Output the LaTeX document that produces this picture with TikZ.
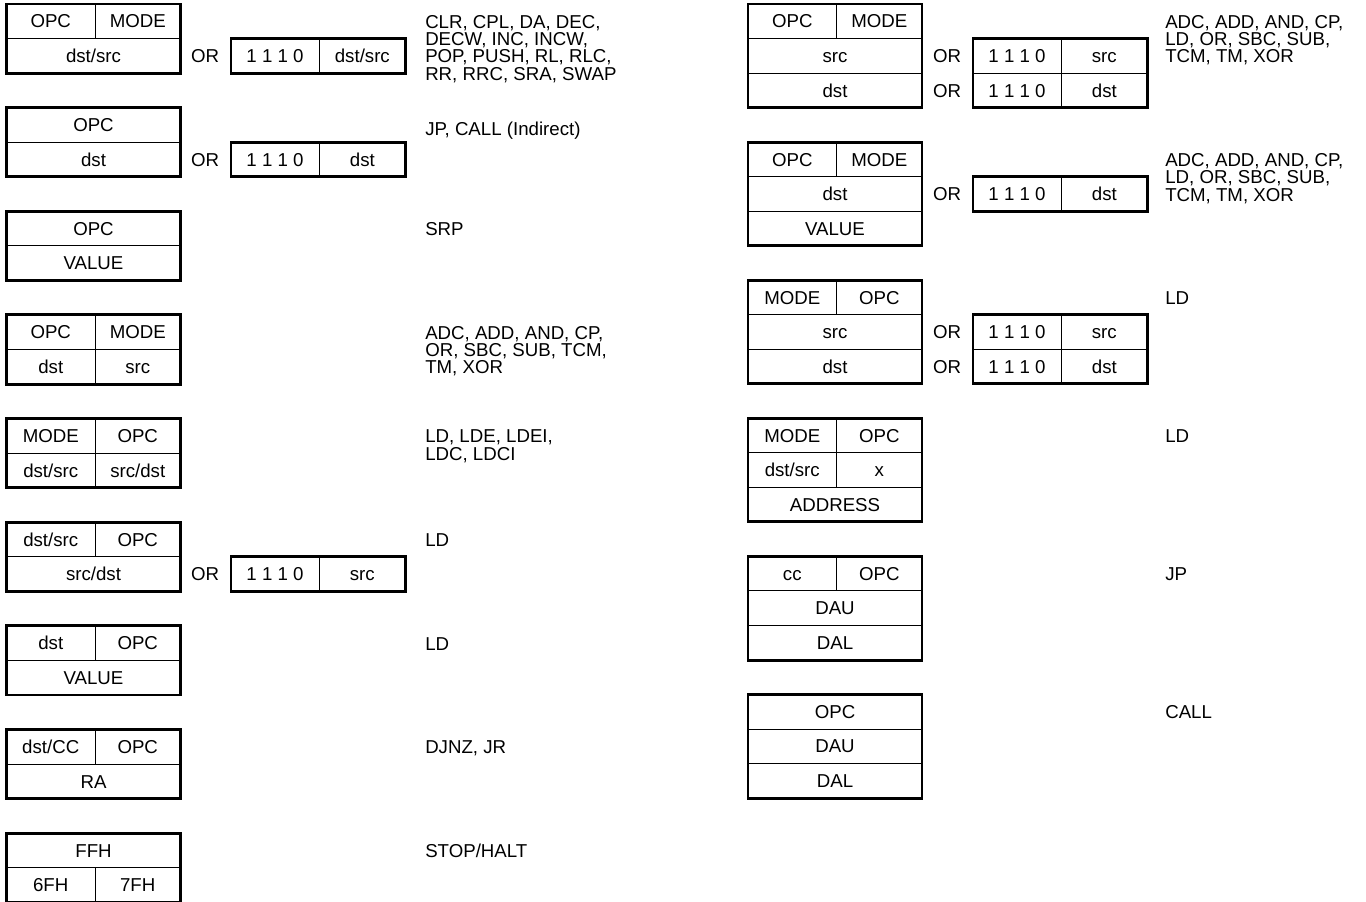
\documentclass[tikz,border=0pt]{standalone}
\usepackage{fontspec}
\setmainfont{Liberation Sans}
\usetikzlibrary{calc}
\newcommand{\fs}{\fontsize{14}{13}\selectfont}
\newcommand{\tp}{\rule{0pt}{10.5pt}}
\tikzset{
  cell/.style={draw, line width=0.75pt, minimum height=25.91pt, inner sep=0pt, outer sep=0pt,
    anchor=north west, font=\fs, text height=10pt, text depth=0pt},
  full/.style={cell, minimum width=130.5pt},
  lhalf/.style={cell, minimum width=66.375pt},
  rhalf/.style={cell, minimum width=64.125pt},
  orl/.style={cell, minimum width=66pt},
  orr/.style={cell, minimum width=65pt},
  frame/.style={line width=2.2pt},
  ortxt/.style={font=\fs, inner sep=0pt, text height=10pt, text depth=0pt},
  desc/.style={anchor=north west, align=left, font=\fs, inner sep=0pt}
}
\begin{document}
\begin{tikzpicture}[x=0.75pt,y=-0.75pt]
\useasboundingbox (0,0) rectangle (1366,902);

% ---------------- Left column ----------------
% 1
\node[lhalf] (l1a) at (6.5,4) {OPC};
\node[rhalf] (l1b) at (l1a.north east) {MODE};
\node[full]  (l1c) at (l1a.south west) {dst/src};
\draw[frame] (l1a.north west) rectangle (l1c.south east);
\node[ortxt] (l1or) at ($(l1c.east)+(24.5,0)$) {OR};
\node[orl] (l1d) at ($(l1c.north east)+(50.5,0)$) {1 1 1 0};
\node[orr] (l1e) at (l1d.north east) {dst/src};
\draw[frame] (l1d.north west) rectangle (l1e.south east);
\node[desc] (l1t) at ($(l1a.west)+(418.5,-7.3)$) {\tp CLR, CPL, DA, DEC,\\DECW, INC, INCW,\\POP, PUSH, RL, RLC,\\RR, RRC, SRA, SWAP};

% 2
\node[full] (l2a) at (6.5,107.65) {OPC};
\node[full] (l2c) at (l2a.south west) {dst};
\draw[frame] (l2a.north west) rectangle (l2c.south east);
\node[ortxt] (l2or) at ($(l2c.east)+(24.5,0)$) {OR};
\node[orl] (l2d) at ($(l2c.north east)+(50.5,0)$) {1 1 1 0};
\node[orr] (l2e) at (l2d.north east) {dst};
\draw[frame] (l2d.north west) rectangle (l2e.south east);
\node[desc] (l2t) at ($(l2a.west)+(418.5,-3.5)$) {\tp JP, CALL (Indirect)};

% 3
\node[full] (l3a) at (6.5,211.3) {OPC};
\node[full] (l3c) at (l3a.south west) {VALUE};
\draw[frame] (l3a.north west) rectangle (l3c.south east);
\node[desc] (l3t) at ($(l3a.west)+(418.5,-7.3)$) {\tp SRP};

% 4
\node[lhalf] (l4a) at (6.5,314.95) {OPC};
\node[rhalf] (l4b) at (l4a.north east) {MODE};
\node[lhalf] (l4c) at (l4a.south west) {dst};
\node[rhalf] (l4d) at (l4c.north east) {src};
\draw[frame] (l4a.north west) rectangle (l4d.south east);
\node[desc] (l4t) at ($(l4a.west)+(418.5,-7.3)$) {\tp ADC, ADD, AND, CP,\\OR, SBC, SUB, TCM,\\TM, XOR};

% 5
\node[lhalf] (l5a) at (6.5,418.6) {MODE};
\node[rhalf] (l5b) at (l5a.north east) {OPC};
\node[lhalf] (l5c) at (l5a.south west) {dst/src};
\node[rhalf] (l5d) at (l5c.north east) {src/dst};
\draw[frame] (l5a.north west) rectangle (l5d.south east);
\node[desc] (l5t) at ($(l5a.west)+(418.5,-7.3)$) {\tp LD, LDE, LDEI,\\LDC, LDCI};

% 6
\node[lhalf] (l6a) at (6.5,522.25) {dst/src};
\node[rhalf] (l6b) at (l6a.north east) {OPC};
\node[full]  (l6c) at (l6a.south west) {src/dst};
\draw[frame] (l6a.north west) rectangle (l6c.south east);
\node[ortxt] (l6or) at ($(l6c.east)+(24.5,0)$) {OR};
\node[orl] (l6d) at ($(l6c.north east)+(50.5,0)$) {1 1 1 0};
\node[orr] (l6e) at (l6d.north east) {src};
\draw[frame] (l6d.north west) rectangle (l6e.south east);
\node[desc] (l6t) at ($(l6a.west)+(418.5,-7.3)$) {\tp LD};

% 7
\node[lhalf] (l7a) at (6.5,625.9) {dst};
\node[rhalf] (l7b) at (l7a.north east) {OPC};
\node[full]  (l7c) at (l7a.south west) {VALUE};
\draw[frame] (l7a.north west) rectangle (l7c.south east);
\node[desc] (l7t) at ($(l7a.west)+(418.5,-7.3)$) {\tp LD};

% 8
\node[lhalf] (l8a) at (6.5,729.55) {dst/CC};
\node[rhalf] (l8b) at (l8a.north east) {OPC};
\node[full]  (l8c) at (l8a.south west) {RA};
\draw[frame] (l8a.north west) rectangle (l8c.south east);
\node[desc] (l8t) at ($(l8a.west)+(418.5,-7.3)$) {\tp DJNZ, JR};

% 9
\node[full]  (l9a) at (6.5,833.2) {FFH};
\node[lhalf] (l9c) at (l9a.south west) {6FH};
\node[rhalf] (l9d) at (l9c.north east) {7FH};
\draw[frame] (l9a.north west) rectangle (l9d.south east);
\node[desc] (l9t) at ($(l9a.west)+(418.5,-7.3)$) {\tp STOP/HALT};

% ---------------- Right column ----------------
% 1
\node[lhalf] (r1a) at (748,4) {OPC};
\node[rhalf] (r1b) at (r1a.north east) {MODE};
\node[full]  (r1c) at (r1a.south west) {src};
\node[full]  (r1d) at (r1c.south west) {dst};
\draw[frame] (r1a.north west) rectangle (r1d.south east);
\node[ortxt] (r1or1) at ($(r1c.east)+(25,0)$) {OR};
\node[ortxt] (r1or2) at ($(r1d.east)+(25,0)$) {OR};
\node[orl] (r1e) at ($(r1c.north east)+(51,0)$) {1 1 1 0};
\node[orr] (r1f) at (r1e.north east) {src};
\node[orl] (r1g) at (r1e.south west) {1 1 1 0};
\node[orr] (r1h) at (r1g.north east) {dst};
\draw[frame] (r1e.north west) rectangle (r1h.south east);
\node[desc] (r1t) at ($(r1a.west)+(417,-7.3)$) {\tp ADC, ADD, AND, CP,\\LD, OR, SBC, SUB,\\TCM, TM, XOR};

% 2
\node[lhalf] (r2a) at (748,142.1) {OPC};
\node[rhalf] (r2b) at (r2a.north east) {MODE};
\node[full]  (r2c) at (r2a.south west) {dst};
\node[full]  (r2d) at (r2c.south west) {VALUE};
\draw[frame] (r2a.north west) rectangle (r2d.south east);
\node[ortxt] (r2or) at ($(r2c.east)+(25,0)$) {OR};
\node[orl] (r2e) at ($(r2c.north east)+(51,0)$) {1 1 1 0};
\node[orr] (r2f) at (r2e.north east) {dst};
\draw[frame] (r2e.north west) rectangle (r2f.south east);
\node[desc] (r2t) at ($(r2a.west)+(417,-7.3)$) {\tp ADC, ADD, AND, CP,\\LD, OR, SBC, SUB,\\TCM, TM, XOR};

% 3
\node[lhalf] (r3a) at (748,280.2) {MODE};
\node[rhalf] (r3b) at (r3a.north east) {OPC};
\node[full]  (r3c) at (r3a.south west) {src};
\node[full]  (r3d) at (r3c.south west) {dst};
\draw[frame] (r3a.north west) rectangle (r3d.south east);
\node[ortxt] (r3or1) at ($(r3c.east)+(25,0)$) {OR};
\node[ortxt] (r3or2) at ($(r3d.east)+(25,0)$) {OR};
\node[orl] (r3e) at ($(r3c.north east)+(51,0)$) {1 1 1 0};
\node[orr] (r3f) at (r3e.north east) {src};
\node[orl] (r3g) at (r3e.south west) {1 1 1 0};
\node[orr] (r3h) at (r3g.north east) {dst};
\draw[frame] (r3e.north west) rectangle (r3h.south east);
\node[desc] (r3t) at ($(r3a.west)+(417,-7.3)$) {\tp LD};

% 4
\node[lhalf] (r4a) at (748,418.3) {MODE};
\node[rhalf] (r4b) at (r4a.north east) {OPC};
\node[lhalf] (r4c) at (r4a.south west) {dst/src};
\node[rhalf] (r4d) at (r4c.north east) {x};
\node[full]  (r4e) at (r4c.south west) {ADDRESS};
\draw[frame] (r4a.north west) rectangle (r4e.south east);
\node[desc] (r4t) at ($(r4a.west)+(417,-7.3)$) {\tp LD};

% 5
\node[lhalf] (r5a) at (748,556.4) {cc};
\node[rhalf] (r5b) at (r5a.north east) {OPC};
\node[full]  (r5c) at (r5a.south west) {DAU};
\node[full]  (r5d) at (r5c.south west) {DAL};
\draw[frame] (r5a.north west) rectangle (r5d.south east);
\node[desc] (r5t) at ($(r5a.west)+(417,-7.3)$) {\tp JP};

% 6
\node[full] (r6a) at (748,694.5) {OPC};
\node[full] (r6c) at (r6a.south west) {DAU};
\node[full] (r6d) at (r6c.south west) {DAL};
\draw[frame] (r6a.north west) rectangle (r6d.south east);
\node[desc] (r6t) at ($(r6a.west)+(417,-7.3)$) {\tp CALL};
\end{tikzpicture}
\end{document}
